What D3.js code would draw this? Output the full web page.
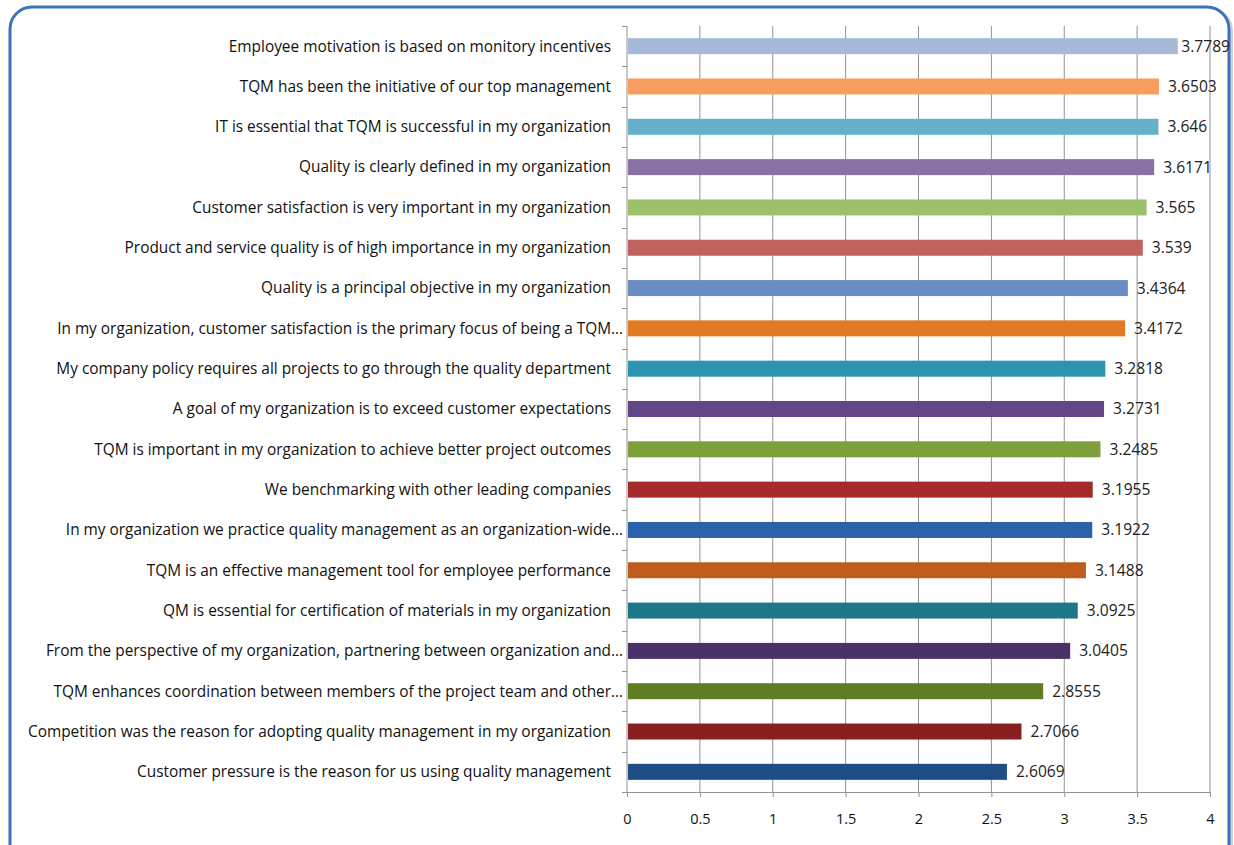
<!DOCTYPE html>
<html><head><meta charset="utf-8">
<script src="https://cdn.jsdelivr.net/npm/d3@7"></script>
<style>body{margin:0;background:#fff;}svg{display:block;}</style>
</head><body>
<svg id="c" width="1234" height="845"></svg>
<script>
const categories = [
 "Employee motivation is based on monitory incentives",
 "TQM has been the initiative of our top management",
 "IT is essential that TQM is successful in my organization",
 "Quality is clearly defined in my organization",
 "Customer satisfaction is very important in my organization",
 "Product and service quality is of high importance in my organization",
 "Quality is a principal objective in my organization",
 "In my organization, customer satisfaction is the primary focus of being a TQM…",
 "My company policy requires all projects to go through the quality department",
 "A goal of my organization is to exceed customer expectations",
 "TQM is important in my organization to achieve better project outcomes",
 "We benchmarking with other leading companies",
 "In my organization we practice quality management as an organization-wide…",
 "TQM is an effective management tool for employee performance",
 "QM is essential for certification of materials in my organization",
 "From the perspective of my organization, partnering between organization and…",
 "TQM enhances coordination between members of the project team and other…",
 "Competition was the reason for adopting quality management in my organization",
 "Customer pressure is the reason for us using quality management"
];
const values = [3.7789,3.6503,3.646,3.6171,3.565,3.539,3.4364,3.4172,3.2818,3.2731,3.2485,3.1955,3.1922,3.1488,3.0925,3.0405,2.8555,2.7066,2.6069];
const valueLabels = ["3.7789","3.6503","3.646","3.6171","3.565","3.539","3.4364","3.4172","3.2818","3.2731","3.2485","3.1955","3.1922","3.1488","3.0925","3.0405","2.8555","2.7066","2.6069"];
const colors = ["#A7B9D8","#F79D5F","#65B1CB","#8A72A7","#9DC06B","#C0625F","#6A8CC5","#E17A24","#2A94B1","#614688","#7DA03A","#A52B2B","#2C62AA","#BF5C1C","#1E7689","#4A3168","#5F7E24","#8A1F1F","#1F4E86"];
const xTicks = [0,0.5,1,1.5,2,2.5,3,3.5,4];
const xTickLabels = ["0","0.5","1","1.5","2","2.5","3","3.5","4"];

const svg = d3.select("#c");
const font = "'Open Sans', 'Liberation Sans', Arial, sans-serif";

// frame
svg.append("rect").attr("x",11).attr("y",8).attr("width",1219).attr("height",880)
  .attr("rx",22).attr("fill","none").attr("stroke","#d0d0d0").attr("stroke-width",4).attr("transform","translate(1,1)");
svg.append("rect").attr("x",10).attr("y",7).attr("width",1219).attr("height",880)
  .attr("rx",22).attr("fill","#fff").attr("stroke","#3D73BE").attr("stroke-width",3);

const pLeft = 627, pRight = 1210, pTop = 26, pBottom = 792;
const x = d3.scaleLinear().domain([0,4]).range([pLeft,pRight]);
const yb = d3.scaleBand().domain(categories).range([pTop,pBottom]);

// gridlines
svg.append("g").selectAll("line").data(xTicks.slice(1)).join("line")
  .attr("x1",d=>x(d)).attr("x2",d=>x(d)).attr("y1",pTop).attr("y2",pBottom)
  .attr("stroke","#929292").attr("stroke-width",1);

// x axis
const xa = svg.append("g").attr("transform",`translate(0,${pBottom})`)
  .call(d3.axisBottom(x).tickValues(xTicks).tickFormat((d,i)=>xTickLabels[i]).tickSize(5).tickPadding(17));
xa.select(".domain").attr("stroke","#929292");
xa.selectAll(".tick line").attr("stroke","#929292");
xa.selectAll("text").attr("font-family",font).attr("font-size",14.5).attr("fill","#111");

// y axis line and ticks at band boundaries
svg.append("line").attr("x1",pLeft).attr("x2",pLeft).attr("y1",pTop).attr("y2",pBottom).attr("stroke","#929292");
const bounds = categories.map(c=>yb(c)).concat([pBottom]);
svg.append("g").selectAll("line").data(bounds).join("line")
  .attr("x1",pLeft-5).attr("x2",pLeft).attr("y1",d=>Math.round(d)+0.5).attr("y2",d=>Math.round(d)+0.5)
  .attr("stroke","#929292");

// category labels
svg.append("g").selectAll("text").data(categories).join("text")
  .attr("x",d=>d.endsWith("…") ? pLeft-4 : pLeft-16)
  .attr("y",d=>yb(d)+yb.bandwidth()/2)
  .attr("dy","0.35em").attr("text-anchor","end")
  .attr("font-family",font).attr("font-size",15.4).attr("fill","#111")
  .text(d=>d);

// bars
svg.append("g").selectAll("rect").data(values).join("rect")
  .attr("x",x(0)+1).attr("y",(d,i)=>yb(categories[i])+yb.bandwidth()/2-8)
  .attr("width",d=>x(d)-x(0)-1).attr("height",16)
  .attr("fill",(d,i)=>colors[i]);

// value labels
const vl = svg.append("g").selectAll("text").data(values).join("text")
  .attr("y",(d,i)=>yb(categories[i])+yb.bandwidth()/2)
  .attr("dy","0.35em")
  .attr("font-family",font).attr("font-size",15.6).attr("fill","#222")
  .text((d,i)=>valueLabels[i]);
vl.each(function(d){
  const w = this.getComputedTextLength();
  this.setAttribute("x", Math.min(x(d)+9, 1230-w));
});
</script>
</body></html>
